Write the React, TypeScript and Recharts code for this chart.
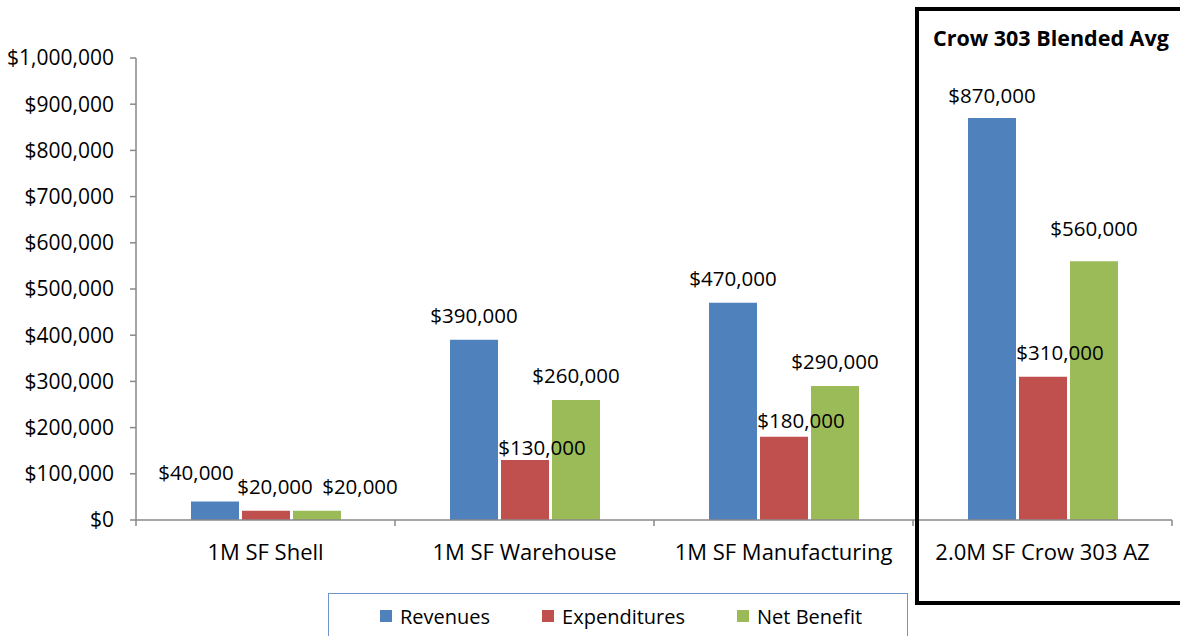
import { BarChart, Bar, XAxis, YAxis, LabelList } from 'recharts';

const categories = ['1M SF Shell', '1M SF Warehouse', '1M SF Manufacturing', '2.0M SF Crow 303 AZ'];
const revenues = [40000, 390000, 470000, 870000];
const expenditures = [20000, 130000, 180000, 310000];
const netBenefit = [20000, 260000, 290000, 560000];
const yTicks = [0, 100000, 200000, 300000, 400000, 500000, 600000, 700000, 800000, 900000, 1000000];

const series = [
    { key: 'revenues', name: 'Revenues', color: '#4f81bd', dx: 0 },
    { key: 'expenditures', name: 'Expenditures', color: '#c0504d', dx: 17 },
    { key: 'netBenefit', name: 'Net Benefit', color: '#9bbb59', dx: 0 },
];

const data = categories.map((name, i) => ({
    name,
    revenues: revenues[i],
    expenditures: expenditures[i],
    netBenefit: netBenefit[i],
}));

const W = 1180;
const H = 636;
const M = { top: 58, right: 8, left: 0, bottom: 0 };
const Y_W = 136;
const X_H = 116;
const BAND = (W - Y_W - M.right) / categories.length;
const FONT = '"Open Sans", sans-serif';

// hand-placed data labels in the original (dx, lift above bar)
const labelTweaks: Record<string, { dx?: number; lift?: number }> = {
    'revenues-0': { dx: -19, lift: 22 },
    'expenditures-0': { dx: 9 },
    'netBenefit-0': { dx: 43 },
    'revenues-3': { lift: 15 },
    'expenditures-1': { lift: 5 },
    'expenditures-2': { lift: 9 },
    'netBenefit-3': { lift: 25 },
};

const money = (v: number) => '$' + v.toLocaleString('en-US');

const makeLabel = (key: string, baseDx: number) => (p: any) => {
    const t = labelTweaks[`${key}-${p.index}`] || {};
    const dx = t.dx ?? baseDx;
    const lift = t.lift ?? 17;
    return (
        <text x={p.x + p.width / 2 + dx} y={p.y - lift} textAnchor="middle" fill="#000" fontSize={20.5} fontFamily={FONT}>
            {money(p.value)}
        </text>
    );
};

const CategoryTick = ({ x, y, payload, index }: any) => (
    <g>
        <line x1={x - BAND / 2} x2={x - BAND / 2} y1={y - 6} y2={y} stroke="#898989" strokeWidth={1.5} />
        {index === categories.length - 1 && (
            <line x1={x + BAND / 2} x2={x + BAND / 2} y1={y - 6} y2={y} stroke="#898989" strokeWidth={1.5} />
        )}
        <text x={x} y={y + 34} textAnchor="middle" fill="#000" fontSize={22} fontFamily={FONT}>
            {payload.value}
        </text>
    </g>
);

const LegendBox = () => (
    <div style={{ position: 'absolute', left: 328, top: 593, width: 580, height: 60, border: '1.5px solid #6f95c9', boxSizing: 'border-box', display: 'flex', paddingLeft: 51, paddingTop: 9, fontFamily: FONT, fontSize: 20, whiteSpace: 'nowrap' }}>
        {series.map(s => (
            <div key={s.key} style={{ display: 'flex', alignItems: 'center', marginRight: 52, height: 26, flexShrink: 0 }}>
                <span style={{ width: 12, height: 12, background: s.color, marginRight: 8 }} />
                <span style={{ color: '#000' }}>{s.name}</span>
            </div>
        ))}
    </div>
);

export default function App() {
    return (
        <div style={{ position: 'absolute', left: 0, top: 0, width: W, height: H, overflow: 'hidden', background: '#fff' }}>
            <BarChart width={W} height={H} data={data} margin={M} barCategoryGap={55} barGap={3}>
                <XAxis
                    dataKey="name"
                    height={X_H}
                    tickLine={false}
                    tickSize={6}
                    tickMargin={0}
                    axisLine={{ stroke: '#898989', strokeWidth: 1.5 }}
                    tick={<CategoryTick />}
                    interval={0}
                />
                <YAxis
                    width={Y_W}
                    domain={[0, 1000000]}
                    ticks={yTicks}
                    tickFormatter={money}
                    tickSize={6}
                    tickMargin={16}
                    axisLine={{ stroke: '#898989', strokeWidth: 1.5 }}
                    tickLine={{ stroke: '#898989', strokeWidth: 1.5 }}
                    tick={{ fill: '#000', fontSize: 21, fontFamily: FONT }}
                />
                {series.map(s => (
                    <Bar key={s.key} dataKey={s.key} name={s.name} fill={s.color} isAnimationActive={false}>
                        <LabelList dataKey={s.key} content={makeLabel(s.key, s.dx)} />
                    </Bar>
                ))}
            </BarChart>
            <LegendBox />
            <div style={{ position: 'absolute', left: 915, top: 7, width: 300, height: 598, border: '4px solid #000', boxSizing: 'border-box', pointerEvents: 'none' }}>
                <div style={{ position: 'absolute', left: 14, top: 12, fontFamily: FONT, fontWeight: 700, fontSize: 21.5, color: '#000', whiteSpace: 'nowrap' }}>
                    Crow 303 Blended Avg
                </div>
            </div>
        </div>
    );
}
